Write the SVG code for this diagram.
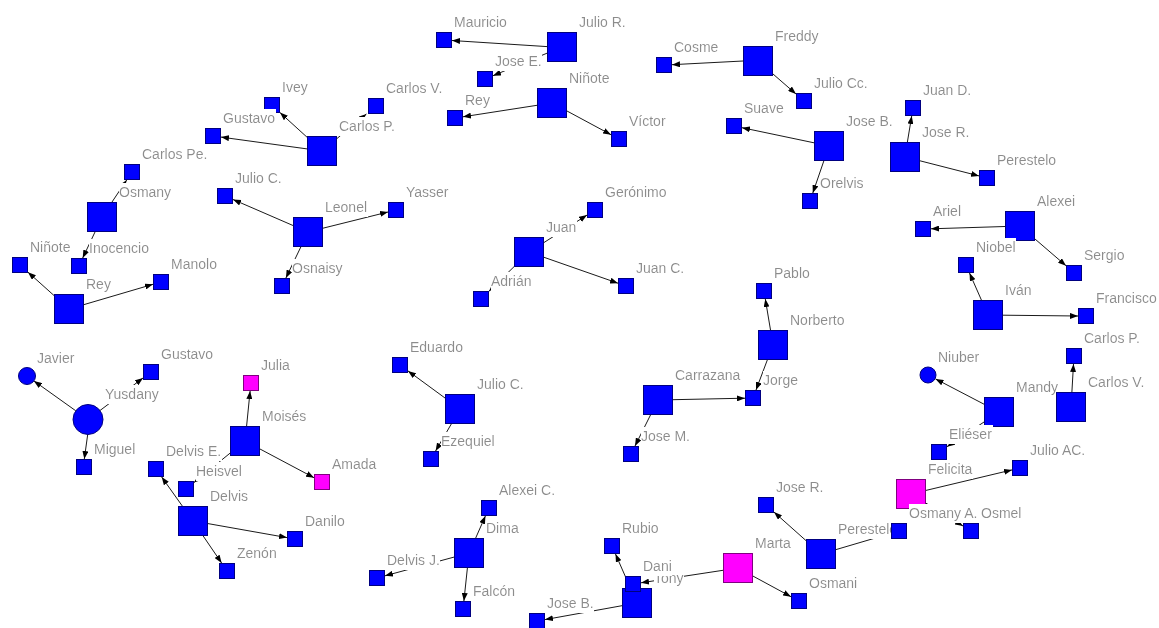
<svg xmlns="http://www.w3.org/2000/svg" width="1159" height="628" viewBox="0 0 1159 628">
<style>
.n{fill:#0000ff;stroke:#000080;stroke-width:1}
.m{fill:#ff00ff;stroke:#800080;stroke-width:1}
.l{font-family:"Liberation Sans",Arial,sans-serif;font-size:14px;fill:#8c8c8c;filter:url(#bg)}
.e{stroke:#1a1a1a;stroke-width:1;fill:none;marker-end:url(#arr)}
</style>
<defs>
<filter id="bg" x="0" y="-0.05" width="1" height="1.12"><feFlood flood-color="#ffffff"/><feComposite in="SourceGraphic" operator="over"/></filter>
<marker id="arr" viewBox="0 0 8 6" markerWidth="8" markerHeight="6" refX="8" refY="3" orient="auto" markerUnits="userSpaceOnUse"><path d="M0,0 L8,3 L0,6 z" fill="#000"/></marker>
</defs>
<rect width="1159" height="628" fill="#ffffff"/>
<g id="connectors">
<line class="e" x1="547" y1="46.6" x2="452" y2="40.5"/>
<line class="e" x1="547" y1="53.2" x2="493" y2="75.7"/>
<line class="e" x1="537" y1="105.3" x2="463" y2="116.8"/>
<line class="e" x1="567" y1="111" x2="611" y2="134.7"/>
<line class="e" x1="743" y1="61" x2="672" y2="64.7"/>
<line class="e" x1="773" y1="74" x2="796" y2="94"/>
<line class="e" x1="814" y1="142.8" x2="742" y2="127.7"/>
<line class="e" x1="823.8" y1="161" x2="812.8" y2="193"/>
<line class="e" x1="907.4" y1="142" x2="911.7" y2="116"/>
<line class="e" x1="920" y1="160.8" x2="979" y2="175.9"/>
<line class="e" x1="307" y1="137.2" x2="280" y2="112.6"/>
<line class="e" x1="307" y1="148.9" x2="221" y2="137.1"/>
<line class="e" x1="337" y1="138.5" x2="366.4" y2="114"/>
<line class="e" x1="112" y1="202" x2="126.7" y2="180"/>
<line class="e" x1="95" y1="232" x2="82.7" y2="258"/>
<line class="e" x1="54" y1="295.5" x2="28" y2="272.2"/>
<line class="e" x1="84" y1="304.6" x2="153" y2="284.3"/>
<line class="e" x1="293" y1="225.5" x2="233" y2="199.5"/>
<line class="e" x1="323" y1="228.2" x2="388" y2="212"/>
<line class="e" x1="300.8" y1="247" x2="285.9" y2="278"/>
<line class="e" x1="544" y1="242.5" x2="587" y2="215.1"/>
<line class="e" x1="514" y1="266.7" x2="489" y2="291.2"/>
<line class="e" x1="544" y1="257.3" x2="618" y2="283.2"/>
<line class="e" x1="445" y1="398" x2="408" y2="370.9"/>
<line class="e" x1="451.3" y1="424" x2="435.6" y2="451"/>
<line class="e" x1="673" y1="399.7" x2="745" y2="398.2"/>
<line class="e" x1="650.5" y1="415" x2="635" y2="446"/>
<line class="e" x1="770.5" y1="330" x2="765.3" y2="299"/>
<line class="e" x1="767.3" y1="360" x2="756" y2="390"/>
<line class="e" x1="1005" y1="226.5" x2="931" y2="228.8"/>
<line class="e" x1="1035" y1="239" x2="1066" y2="265.7"/>
<line class="e" x1="981.4" y1="300" x2="969.5" y2="273"/>
<line class="e" x1="1003" y1="315.2" x2="1078" y2="316"/>
<line class="e" x1="984" y1="404.2" x2="935.5" y2="378.9"/>
<line class="e" x1="984" y1="422" x2="947" y2="446.7"/>
<line class="e" x1="1071.9" y1="392" x2="1073.5" y2="364"/>
<line class="e" x1="926" y1="490.4" x2="1012" y2="469.9"/>
<line class="e" x1="926" y1="503.2" x2="963" y2="526"/>
<line class="e" x1="836" y1="549.6" x2="891" y2="533.4"/>
<line class="e" x1="806" y1="540.6" x2="774" y2="512.1"/>
<line class="e" x1="723" y1="570.3" x2="641" y2="582.8"/>
<line class="e" x1="753" y1="576.1" x2="791" y2="596.7"/>
<line class="e" x1="630.4" y1="588" x2="615.5" y2="554"/>
<line class="e" x1="622" y1="605.7" x2="545" y2="619.6"/>
<line class="e" x1="475.7" y1="538" x2="485.4" y2="516"/>
<line class="e" x1="454" y1="557.1" x2="385" y2="575.8"/>
<line class="e" x1="467.4" y1="568" x2="463.9" y2="601"/>
<line class="e" x1="75.8" y1="410.8" x2="33.9" y2="380.9"/>
<line class="e" x1="100" y1="410.5" x2="143" y2="378"/>
<line class="e" x1="87.7" y1="434.5" x2="84.3" y2="459"/>
<line class="e" x1="246.6" y1="426" x2="250.1" y2="391"/>
<line class="e" x1="260" y1="449" x2="314" y2="477.7"/>
<line class="e" x1="230" y1="453.2" x2="194" y2="482.5"/>
<line class="e" x1="182.3" y1="506" x2="161.7" y2="477"/>
<line class="e" x1="208" y1="523.6" x2="287" y2="537.6"/>
<line class="e" x1="203.2" y1="536" x2="221.6" y2="563"/>
</g>
<g id="n-julio-r"><rect class="n" x="547.5" y="32.5" width="29" height="29"/><text class="l" x="579" y="27">Julio R.</text></g>
<g id="n-mauricio"><rect class="n" x="436.5" y="32.5" width="15" height="15"/><text class="l" x="454" y="27">Mauricio</text></g>
<g id="n-jose-e"><rect class="n" x="477.5" y="71.5" width="15" height="15"/><text class="l" x="495" y="66">Jose E.</text></g>
<g id="n-ninote-top"><rect class="n" x="537.5" y="88.5" width="29" height="29"/><text class="l" x="569" y="83">Niñote</text></g>
<g id="n-rey-top"><rect class="n" x="447.5" y="110.5" width="15" height="15"/><text class="l" x="465" y="105">Rey</text></g>
<g id="n-victor"><rect class="n" x="611.5" y="131.5" width="15" height="15"/><text class="l" x="629" y="126">Víctor</text></g>
<g id="n-freddy"><rect class="n" x="743.5" y="46.5" width="29" height="29"/><text class="l" x="775" y="41">Freddy</text></g>
<g id="n-cosme"><rect class="n" x="656.5" y="57.5" width="15" height="15"/><text class="l" x="674" y="52">Cosme</text></g>
<g id="n-julio-cc"><rect class="n" x="796.5" y="93.5" width="15" height="15"/><text class="l" x="814" y="88">Julio Cc.</text></g>
<g id="n-jose-b-top"><rect class="n" x="814.5" y="131.5" width="29" height="29"/><text class="l" x="846" y="126">Jose B.</text></g>
<g id="n-suave"><rect class="n" x="726.5" y="118.5" width="15" height="15"/><text class="l" x="744" y="113">Suave</text></g>
<g id="n-orelvis"><rect class="n" x="802.5" y="193.5" width="15" height="15"/><text class="l" x="820" y="188">Orelvis</text></g>
<g id="n-jose-r-top"><rect class="n" x="890.5" y="142.5" width="29" height="29"/><text class="l" x="922" y="137">Jose R.</text></g>
<g id="n-juan-d"><rect class="n" x="905.5" y="100.5" width="15" height="15"/><text class="l" x="923" y="95">Juan D.</text></g>
<g id="n-perestelo-top"><rect class="n" x="979.5" y="170.5" width="15" height="15"/><text class="l" x="997" y="165">Perestelo</text></g>
<g id="n-carlos-p-top"><rect class="n" x="307.5" y="136.5" width="29" height="29"/><text class="l" x="339" y="131">Carlos P.</text></g>
<g id="n-ivey"><rect class="n" x="264.5" y="97.5" width="15" height="15"/><text class="l" x="282" y="92">Ivey</text></g>
<g id="n-gustavo-top"><rect class="n" x="205.5" y="128.5" width="15" height="15"/><text class="l" x="223" y="123">Gustavo</text></g>
<g id="n-carlos-v-top"><rect class="n" x="368.5" y="98.5" width="15" height="15"/><text class="l" x="386" y="93">Carlos V.</text></g>
<g id="n-osmany"><rect class="n" x="87.5" y="202.5" width="29" height="29"/><text class="l" x="119" y="197">Osmany</text></g>
<g id="n-carlos-pe"><rect class="n" x="124.5" y="164.5" width="15" height="15"/><text class="l" x="142" y="159">Carlos Pe.</text></g>
<g id="n-inocencio"><rect class="n" x="71.5" y="258.5" width="15" height="15"/><text class="l" x="89" y="253">Inocencio</text></g>
<g id="n-rey-left"><rect class="n" x="54.5" y="294.5" width="29" height="29"/><text class="l" x="86" y="289">Rey</text></g>
<g id="n-ninote-left"><rect class="n" x="12.5" y="257.5" width="15" height="15"/><text class="l" x="30" y="252">Niñote</text></g>
<g id="n-manolo"><rect class="n" x="153.5" y="274.5" width="15" height="15"/><text class="l" x="171" y="269">Manolo</text></g>
<g id="n-leonel"><rect class="n" x="293.5" y="217.5" width="29" height="29"/><text class="l" x="325" y="212">Leonel</text></g>
<g id="n-julio-c-left"><rect class="n" x="217.5" y="188.5" width="15" height="15"/><text class="l" x="235" y="183">Julio C.</text></g>
<g id="n-yasser"><rect class="n" x="388.5" y="202.5" width="15" height="15"/><text class="l" x="406" y="197">Yasser</text></g>
<g id="n-osnaisy"><rect class="n" x="274.5" y="278.5" width="15" height="15"/><text class="l" x="292" y="273">Osnaisy</text></g>
<g id="n-juan"><rect class="n" x="514.5" y="237.5" width="29" height="29"/><text class="l" x="546" y="232">Juan</text></g>
<g id="n-geronimo"><rect class="n" x="587.5" y="202.5" width="15" height="15"/><text class="l" x="605" y="197">Gerónimo</text></g>
<g id="n-adrian"><rect class="n" x="473.5" y="291.5" width="15" height="15"/><text class="l" x="491" y="286">Adrián</text></g>
<g id="n-juan-c"><rect class="n" x="618.5" y="278.5" width="15" height="15"/><text class="l" x="636" y="273">Juan C.</text></g>
<g id="n-julio-c-mid"><rect class="n" x="445.5" y="394.5" width="29" height="29"/><text class="l" x="477" y="389">Julio C.</text></g>
<g id="n-eduardo"><rect class="n" x="392.5" y="357.5" width="15" height="15"/><text class="l" x="410" y="352">Eduardo</text></g>
<g id="n-ezequiel"><rect class="n" x="423.5" y="451.5" width="15" height="15"/><text class="l" x="441" y="446">Ezequiel</text></g>
<g id="n-carrazana"><rect class="n" x="643.5" y="385.5" width="29" height="29"/><text class="l" x="675" y="380">Carrazana</text></g>
<g id="n-jorge"><rect class="n" x="745.5" y="390.5" width="15" height="15"/><text class="l" x="763" y="385">Jorge</text></g>
<g id="n-jose-m"><rect class="n" x="623.5" y="446.5" width="15" height="15"/><text class="l" x="641" y="441">Jose M.</text></g>
<g id="n-norberto"><rect class="n" x="758.5" y="330.5" width="29" height="29"/><text class="l" x="790" y="325">Norberto</text></g>
<g id="n-pablo"><rect class="n" x="756.5" y="283.5" width="15" height="15"/><text class="l" x="774" y="278">Pablo</text></g>
<g id="n-alexei"><rect class="n" x="1005.5" y="211.5" width="29" height="29"/><text class="l" x="1037" y="206">Alexei</text></g>
<g id="n-ariel"><rect class="n" x="915.5" y="221.5" width="15" height="15"/><text class="l" x="933" y="216">Ariel</text></g>
<g id="n-sergio"><rect class="n" x="1066.5" y="265.5" width="15" height="15"/><text class="l" x="1084" y="260">Sergio</text></g>
<g id="n-ivan"><rect class="n" x="973.5" y="300.5" width="29" height="29"/><text class="l" x="1005" y="295">Iván</text></g>
<g id="n-niobel"><rect class="n" x="958.5" y="257.5" width="15" height="15"/><text class="l" x="976" y="252">Niobel</text></g>
<g id="n-francisco"><rect class="n" x="1078.5" y="308.5" width="15" height="15"/><text class="l" x="1096" y="303">Francisco</text></g>
<g id="n-mandy"><rect class="n" x="984.5" y="397.5" width="29" height="29"/><text class="l" x="1016" y="392">Mandy</text></g>
<g id="n-niuber"><circle class="n" cx="928" cy="375" r="8"/><text class="l" x="938" y="362">Niuber</text></g>
<g id="n-carlos-v-right"><rect class="n" x="1056.5" y="392.5" width="29" height="29"/><text class="l" x="1088" y="387">Carlos V.</text></g>
<g id="n-carlos-p-right"><rect class="n" x="1066.5" y="348.5" width="15" height="15"/><text class="l" x="1084" y="343">Carlos P.</text></g>
<g id="n-eliezer"><rect class="n" x="931.5" y="444.5" width="15" height="15"/><text class="l" x="949" y="439">Eliéser</text></g>
<g id="n-felicita"><rect class="m" x="896.5" y="479.5" width="29" height="29"/><text class="l" x="928" y="474">Felicita</text></g>
<g id="n-julio-ac"><rect class="n" x="1012.5" y="460.5" width="15" height="15"/><text class="l" x="1030" y="455">Julio AC.</text></g>
<g id="n-osmel"><rect class="n" x="963.5" y="523.5" width="15" height="15"/><text class="l" x="981" y="518">Osmel</text></g>
<g id="n-perestelo-bot"><rect class="n" x="806.5" y="539.5" width="29" height="29"/><text class="l" x="838" y="534">Perestelo</text></g>
<g id="n-osmany-a"><rect class="n" x="891.5" y="523.5" width="15" height="15"/><text class="l" x="909" y="518">Osmany A.</text></g>
<g id="n-jose-r-bot"><rect class="n" x="758.5" y="497.5" width="15" height="15"/><text class="l" x="776" y="492">Jose R.</text></g>
<g id="n-marta"><rect class="m" x="723.5" y="553.5" width="29" height="29"/><text class="l" x="755" y="548">Marta</text></g>
<g id="n-osmani"><rect class="n" x="791.5" y="593.5" width="15" height="15"/><text class="l" x="809" y="588">Osmani</text></g>
<g id="n-tony"><rect class="n" x="622.5" y="588.5" width="29" height="29"/><text class="l" x="654" y="583">Tony</text></g>
<g id="n-dani"><rect class="n" x="625.5" y="576.5" width="15" height="15"/><text class="l" x="643" y="571">Dani</text></g>
<g id="n-rubio"><rect class="n" x="604.5" y="538.5" width="15" height="15"/><text class="l" x="622" y="533">Rubio</text></g>
<g id="n-jose-b-bot"><rect class="n" x="529.5" y="613.5" width="15" height="15"/><text class="l" x="547" y="608">Jose B.</text></g>
<g id="n-dima"><rect class="n" x="454.5" y="538.5" width="29" height="29"/><text class="l" x="486" y="533">Dima</text></g>
<g id="n-alexei-c"><rect class="n" x="481.5" y="500.5" width="15" height="15"/><text class="l" x="499" y="495">Alexei C.</text></g>
<g id="n-delvis-j"><rect class="n" x="369.5" y="570.5" width="15" height="15"/><text class="l" x="387" y="565">Delvis J.</text></g>
<g id="n-falcon"><rect class="n" x="455.5" y="601.5" width="15" height="15"/><text class="l" x="473" y="596">Falcón</text></g>
<g id="n-yusdany"><circle class="n" cx="88" cy="419.5" r="15"/><text class="l" x="105" y="399">Yusdany</text></g>
<g id="n-javier"><circle class="n" cx="27" cy="376" r="8.5"/><text class="l" x="37" y="363">Javier</text></g>
<g id="n-gustavo-left"><rect class="n" x="143.5" y="364.5" width="15" height="15"/><text class="l" x="161" y="359">Gustavo</text></g>
<g id="n-miguel"><rect class="n" x="76.5" y="459.5" width="15" height="15"/><text class="l" x="94" y="454">Miguel</text></g>
<g id="n-moises"><rect class="n" x="230.5" y="426.5" width="29" height="29"/><text class="l" x="262" y="421">Moisés</text></g>
<g id="n-julia"><rect class="m" x="243.5" y="375.5" width="15" height="15"/><text class="l" x="261" y="370">Julia</text></g>
<g id="n-amada"><rect class="m" x="314.5" y="474.5" width="15" height="15"/><text class="l" x="332" y="469">Amada</text></g>
<g id="n-heisvel"><rect class="n" x="178.5" y="481.5" width="15" height="15"/><text class="l" x="196" y="476">Heisvel</text></g>
<g id="n-delvis"><rect class="n" x="178.5" y="506.5" width="29" height="29"/><text class="l" x="210" y="501">Delvis</text></g>
<g id="n-delvis-e"><rect class="n" x="148.5" y="461.5" width="15" height="15"/><text class="l" x="166" y="456">Delvis E.</text></g>
<g id="n-danilo"><rect class="n" x="287.5" y="531.5" width="15" height="15"/><text class="l" x="305" y="526">Danilo</text></g>
<g id="n-zenon"><rect class="n" x="219.5" y="563.5" width="15" height="15"/><text class="l" x="237" y="558">Zenón</text></g>
</svg>
